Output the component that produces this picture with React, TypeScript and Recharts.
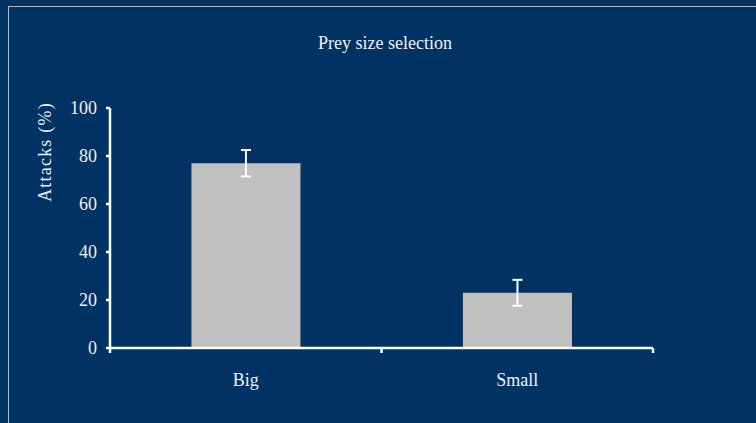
import React from "react";
import { BarChart, Bar, XAxis, YAxis, ErrorBar } from "recharts";

const categories = ["Big", "Small"];
const attacks = [77, 23];
const errors = [5.5, 5.4];
const yTicks = [0, 20, 40, 60, 80, 100];

const data = categories.map((name, i) => ({ name, value: attacks[i], err: errors[i] }));

const W = 756;
const H = 423;
const margin = { top: 108, right: 103, bottom: 45, left: 50 };
const X_AXIS_H = 30;
const Y_AXIS_W = 60;
const FONT = '"Liberation Serif", "Times New Roman", serif';
const TEXT = "#f0f0f0";

const bandWidth = (W - margin.left - margin.right - Y_AXIS_W) / categories.length;

function XTick({ x, y, payload, index }: any) {
  const left = x - bandWidth / 2;
  const right = x + bandWidth / 2;
  return (
    <g>
      <line x1={left} y1={y} x2={left} y2={y + 5} stroke="#ffffff" strokeWidth={2.5} />
      {index === categories.length - 1 && (
        <line x1={right} y1={y} x2={right} y2={y + 5} stroke="#ffffff" strokeWidth={2.5} />
      )}
      <text x={x} y={y + 38} textAnchor="middle" fill={TEXT} fontSize={18} fontFamily={FONT}>
        {payload.value}
      </text>
    </g>
  );
}

export default function App() {
  return (
    <div
      style={{
        position: "fixed", left: 0, top: 0, width: W, height: H,
        background: "#003263", overflow: "hidden",
      }}
    >
      <div
        style={{
          position: "absolute", left: 8, top: 6, width: 900, height: 600,
          border: "1px solid #b8b8b8",
        }}
      />
      <div
        style={{
          position: "absolute", left: 0, top: 33, width: 770, textAlign: "center",
          color: TEXT, fontFamily: FONT, fontSize: 18,
        }}
      >
        Prey size selection
      </div>
      <div
        style={{
          position: "absolute", left: 45, top: 152, transform: "translate(-50%, -50%) rotate(-90deg)",
          color: TEXT, fontFamily: FONT, fontSize: 18, whiteSpace: "nowrap", letterSpacing: 1.2,
        }}
      >
        Attacks (%)
      </div>
      <div style={{ position: "absolute", left: 0, top: 0 }}>
        <BarChart width={W} height={H} data={data} margin={margin} barCategoryGap="30%">
          <XAxis
            dataKey="name"
            height={X_AXIS_H}
            axisLine={{ stroke: "#ffffff", strokeWidth: 2.5 }}
            tickLine={false}
            tickSize={0}
            tickMargin={0}
            tick={<XTick />}
            interval={0}
          />
          <YAxis
            width={Y_AXIS_W}
            domain={[0, 100]}
            ticks={yTicks}
            axisLine={{ stroke: "#ffffff", strokeWidth: 2.5 }}
            tickLine={{ stroke: "#ffffff", strokeWidth: 2.5 }}
            tickSize={4}
            tickMargin={9}
            tick={{ fill: TEXT, fontSize: 18, fontFamily: FONT }}
          />
          <Bar dataKey="value" fill="#c0c0c0" isAnimationActive={false}>
            <ErrorBar dataKey="err" width={5} stroke="#ffffff" strokeWidth={2} />
          </Bar>
        </BarChart>
      </div>
    </div>
  );
}
